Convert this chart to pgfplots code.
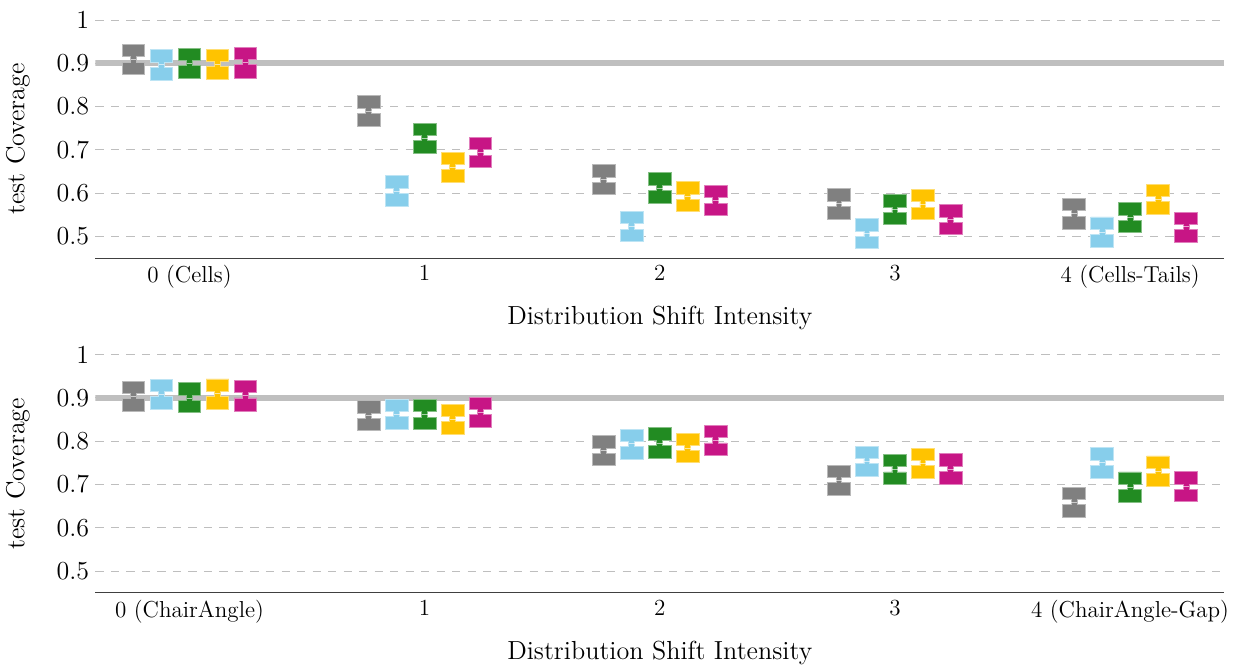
\documentclass[border=0pt]{standalone}
\usepackage{pgfplots}
\pgfplotsset{compat=1.18}

\definecolor{cgray}{RGB}{128,128,128}
\definecolor{cblue}{RGB}{135,206,235}
\definecolor{cgreen}{RGB}{34,139,34}
\definecolor{cyellow}{RGB}{255,195,0}
\definecolor{cmag}{RGB}{199,21,133}
\definecolor{refline}{RGB}{191,191,191}
\definecolor{gridc}{RGB}{190,190,190}

\pgfplotsset{
  covaxis/.style={
    scale only axis,
    width=626pt, height=132pt,
    xmin=-0.4, xmax=4.4,
    ymin=0.45, ymax=1,
    axis x line*=bottom, axis y line*=left,
    y axis line style={draw=none},
    x axis line style={black!75, line width=0.6pt},
    major tick length=0pt,
    ymajorgrids,
    grid style={gridc, line width=0.55pt, dash pattern=on 4.6pt off 4pt},
    xtick={0,1,2,3,4},
    ytick={0.5,0.6,0.7,0.8,0.9,1},
    xticklabel style={font=\fontsize{12.8}{15}\selectfont, yshift=-0.5pt},
    yticklabel style={font=\fontsize{14.5}{17}\selectfont, inner ysep=6.5pt},
    label style={font=\fontsize{14.5}{17}\selectfont},
    ylabel shift=8pt,
    xlabel style={at={(axis description cs:0.5,0)}, anchor=center,
      inner sep=0pt, yshift=-33.3pt},
    ylabel={test Coverage},
    xlabel={Distribution Shift Intensity},
  },
}

% notched box: \nbox{colour}{offset}{category}{q1}{median}{q3}
\newcommand{\nbox}[6]{%
  \pgfmathsetmacro\xl{#3+#2-0.0483}%
  \pgfmathsetmacro\xr{#3+#2+0.0483}%
  \pgfmathsetmacro\xil{#3+#2-0.0125}%
  \pgfmathsetmacro\xir{#3+#2+0.0125}%
  \pgfmathsetmacro\nlo{#5-0.006}%
  \pgfmathsetmacro\nhi{#5+0.006}%
  \addplot[fill=#1, draw=#1!55!white, line width=0.5pt] coordinates {
    (\xl,#4) (\xr,#4) (\xr,\nlo) (\xir,\nlo) (\xir,\nhi) (\xr,\nhi)
    (\xr,#6) (\xl,#6) (\xl,\nhi) (\xil,\nhi) (\xil,\nlo) (\xl,\nlo)} -- cycle;
  \addplot[white, opacity=0.6, line width=0.5pt] coordinates {(\xil,#5) (\xir,#5)};
}

\begin{document}
\begin{tikzpicture}
\begin{axis}[covaxis,
  xticklabels={0 (Cells),1,2,3,4 (Cells-Tails)}]
\addplot[refline, line width=3.3pt] coordinates {(-0.4,0.9) (4.4,0.9)};
% category 0
\nbox{cgray}{-0.238}{0}{0.874}{0.909}{0.944}
\nbox{cblue}{-0.119}{0}{0.861}{0.897}{0.931}
\nbox{cgreen}{0}{0}{0.865}{0.900}{0.935}
\nbox{cyellow}{0.119}{0}{0.863}{0.898}{0.933}
\nbox{cmag}{0.238}{0}{0.866}{0.903}{0.937}
% category 1
\nbox{cgray}{-0.238}{1}{0.755}{0.790}{0.826}
\nbox{cblue}{-0.119}{1}{0.570}{0.605}{0.640}
\nbox{cgreen}{0}{1}{0.692}{0.727}{0.762}
\nbox{cyellow}{0.119}{1}{0.625}{0.660}{0.694}
\nbox{cmag}{0.238}{1}{0.659}{0.694}{0.728}
% category 2
\nbox{cgray}{-0.238}{2}{0.597}{0.631}{0.666}
\nbox{cblue}{-0.119}{2}{0.488}{0.523}{0.558}
\nbox{cgreen}{0}{2}{0.577}{0.612}{0.647}
\nbox{cyellow}{0.119}{2}{0.557}{0.592}{0.627}
\nbox{cmag}{0.238}{2}{0.548}{0.583}{0.617}
% category 3
\nbox{cgray}{-0.238}{3}{0.540}{0.576}{0.610}
\nbox{cblue}{-0.119}{3}{0.472}{0.506}{0.541}
\nbox{cgreen}{0}{3}{0.527}{0.562}{0.597}
\nbox{cyellow}{0.119}{3}{0.539}{0.574}{0.609}
\nbox{cmag}{0.238}{3}{0.504}{0.539}{0.574}
% category 4
\nbox{cgray}{-0.238}{4}{0.517}{0.553}{0.587}
\nbox{cblue}{-0.119}{4}{0.475}{0.510}{0.545}
\nbox{cgreen}{0}{4}{0.509}{0.543}{0.578}
\nbox{cyellow}{0.119}{4}{0.551}{0.586}{0.620}
\nbox{cmag}{0.238}{4}{0.487}{0.522}{0.556}
\end{axis}

\begin{axis}[covaxis, at={(0pt,-185.6pt)},
  xticklabels={0 (ChairAngle),1,2,3,4 (ChairAngle-Gap)}]
\addplot[refline, line width=3.3pt] coordinates {(-0.4,0.9) (4.4,0.9)};
% category 0
\nbox{cgray}{-0.238}{0}{0.870}{0.904}{0.939}
\nbox{cblue}{-0.119}{0}{0.873}{0.909}{0.943}
\nbox{cgreen}{0}{0}{0.866}{0.900}{0.935}
\nbox{cyellow}{0.119}{0}{0.874}{0.910}{0.944}
\nbox{cmag}{0.238}{0}{0.870}{0.906}{0.940}
% category 1
\nbox{cgray}{-0.238}{1}{0.824}{0.859}{0.894}
\nbox{cblue}{-0.119}{1}{0.828}{0.863}{0.897}
\nbox{cgreen}{0}{1}{0.828}{0.862}{0.897}
\nbox{cyellow}{0.119}{1}{0.816}{0.851}{0.886}
\nbox{cmag}{0.238}{1}{0.833}{0.867}{0.902}
% category 2
\nbox{cgray}{-0.238}{2}{0.743}{0.778}{0.8125}
\nbox{cblue}{-0.119}{2}{0.758}{0.794}{0.828}
\nbox{cgreen}{0}{2}{0.761}{0.796}{0.831}
\nbox{cyellow}{0.119}{2}{0.750}{0.784}{0.819}
\nbox{cmag}{0.238}{2}{0.767}{0.802}{0.837}
% category 3
\nbox{cgray}{-0.238}{3}{0.675}{0.710}{0.745}
\nbox{cblue}{-0.119}{3}{0.719}{0.754}{0.789}
\nbox{cgreen}{0}{3}{0.701}{0.735}{0.770}
\nbox{cyellow}{0.119}{3}{0.714}{0.749}{0.784}
\nbox{cmag}{0.238}{3}{0.701}{0.736}{0.771}
% category 4
\nbox{cgray}{-0.238}{4}{0.624}{0.659}{0.694}
\nbox{cblue}{-0.119}{4}{0.715}{0.750}{0.785}
\nbox{cgreen}{0}{4}{0.659}{0.694}{0.729}
\nbox{cyellow}{0.119}{4}{0.696}{0.731}{0.766}
\nbox{cmag}{0.238}{4}{0.660}{0.695}{0.730}
\end{axis}
\end{tikzpicture}
\end{document}
